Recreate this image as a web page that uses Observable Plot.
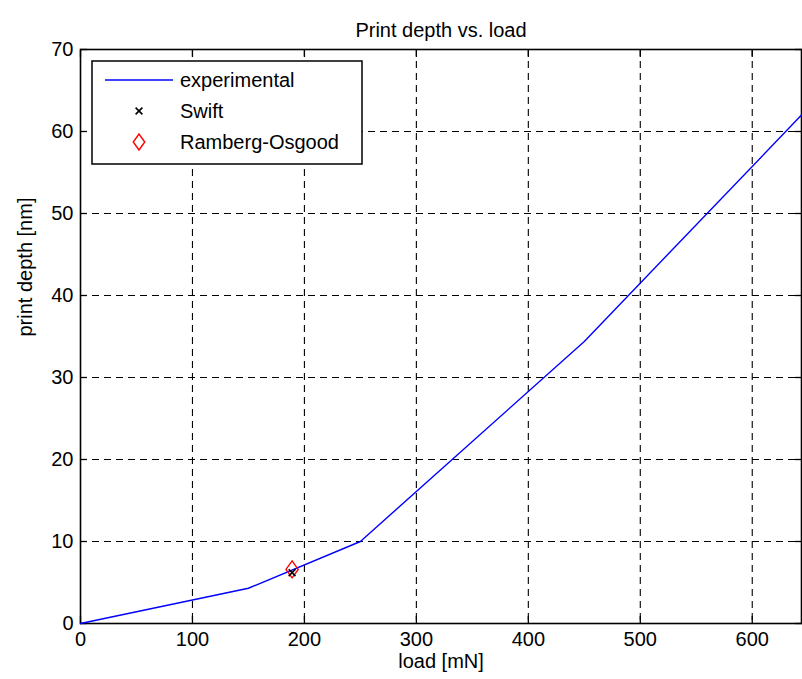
<!DOCTYPE html>
<html>
<head>
<meta charset="utf-8">
<script src="https://cdn.jsdelivr.net/npm/d3@7"></script>
<script src="https://cdn.jsdelivr.net/npm/@observablehq/plot@0.6"></script>
<style>
  html, body { margin: 0; padding: 0; background: #fff; }
  #chart { position: relative; width: 802px; height: 679px; }
</style>
</head>
<body>
<div id="chart"></div>
<script>
// ---- data ----
const loadExp = [0, 150, 250, 450, 644];
const depthExp = [0, 4.3, 10, 34.4, 62];
const swiftLoad = [189];
const swiftDepth = [6.2];
const roLoad = [189];
const roDepth = [6.6];
const xTicks = [0, 100, 200, 300, 400, 500, 600];
const yTicks = [0, 10, 20, 30, 40, 50, 60, 70];
const seriesNames = ["experimental", "Swift", "Ramberg-Osgood"];
const titleText = "Print depth vs. load";
const xLabel = "load [mN]";
const yLabel = "print depth [nm]";

const exp = loadExp.map((x, i) => ({x, y: depthExp[i]}));
const swift = swiftLoad.map((x, i) => ({x, y: swiftDepth[i]}));
const ro = roLoad.map((x, i) => ({x, y: roDepth[i]}));

// tall MATLAB-like diamond
const tallDiamond = {
  draw(context, size) {
    const h = Math.sqrt(size / Math.PI);
    const w = h * 0.72;
    context.moveTo(0, -h);
    context.lineTo(w, 0);
    context.lineTo(0, h);
    context.lineTo(-w, 0);
    context.closePath();
  }
};

const FONT = "Liberation Sans, Arial, Helvetica, sans-serif";
const FS = 20;
const grid = {stroke: "black", strokeOpacity: 1, strokeWidth: 1.1, strokeDasharray: "7,5"};

const svg = Plot.plot({
  width: 802,
  height: 679,
  marginLeft: 80,
  marginRight: 1,
  marginTop: 49,
  marginBottom: 56,
  style: {fontFamily: FONT, fontSize: FS + "px", background: "white", color: "black"},
  x: {domain: [0, 644], ticks: xTicks},
  y: {domain: [0, 70], ticks: yTicks},
  marks: [
    Plot.gridX(xTicks.filter(d => d > 0), grid),
    Plot.gridY(yTicks.filter(d => d > 0 && d < 70), grid),
    // inward tick marks on all four sides
    Plot.axisX({anchor: "bottom", ticks: xTicks, tickSize: 7, dy: -7, tickFormat: () => "", label: null, strokeWidth: 1.3}),
    Plot.axisX({anchor: "top", ticks: xTicks, tickSize: 7, dy: 7, tickFormat: () => "", label: null, strokeWidth: 1.3}),
    Plot.axisY({anchor: "left", ticks: yTicks, tickSize: 7, dx: 7, tickFormat: () => "", label: null, strokeWidth: 1.3}),
    Plot.axisY({anchor: "right", ticks: yTicks, tickSize: 7, dx: -7, tickFormat: () => "", label: null, strokeWidth: 1.3}),
    // tick labels
    Plot.axisX({anchor: "bottom", ticks: xTicks, tickSize: 0, tickPadding: 8, label: null, fontSize: FS}),
    Plot.axisY({anchor: "left", ticks: yTicks, tickSize: 0, tickPadding: 7, label: null, fontSize: FS}),
    Plot.frame({stroke: "black", strokeWidth: 1.6}),
    Plot.line(exp, {x: "x", y: "y", stroke: "#0000ff", strokeWidth: 1.4}),
    Plot.dot(ro, {x: "x", y: "y", symbol: tallDiamond, r: 8.5, stroke: "#ff0000", strokeWidth: 1.4, fill: "none"}),
    Plot.dot(swift, {x: "x", y: "y", symbol: "times", r: 3.2, stroke: "black", strokeWidth: 1.6}),
    Plot.text([titleText], {frameAnchor: "top", dy: -27, fontSize: FS, fill: "black"}),
    Plot.text([xLabel], {frameAnchor: "bottom", dy: 44, fontSize: FS, fill: "black"}),
    Plot.text([yLabel], {frameAnchor: "left", dx: -55, rotate: -90, fontSize: FS, fill: "black"})
  ]
});

// ---- legend (MATLAB-style box in upper left) ----
const g = d3.select(svg).append("g")
  .attr("font-family", FONT).attr("font-size", FS).attr("text-anchor", "start");
const L = {x: 92, y: 61, w: 270, h: 103};
g.append("rect").attr("x", L.x).attr("y", L.y).attr("width", L.w).attr("height", L.h)
  .attr("fill", "white").attr("stroke", "black").attr("stroke-width", 1.5);
const rowY = [80, 111, 142];
g.append("line").attr("x1", 105).attr("x2", 173).attr("y1", rowY[0]).attr("y2", rowY[0])
  .attr("stroke", "#0000ff").attr("stroke-width", 1.4);
g.append("path").attr("d", d3.symbol(d3.symbolTimes, Math.PI * 3.2 * 3.2)())
  .attr("transform", `translate(139,${rowY[1]})`).attr("stroke", "black").attr("stroke-width", 1.6).attr("fill", "none");
g.append("path").attr("d", d3.symbol(tallDiamond, Math.PI * 8 * 8)())
  .attr("transform", `translate(139,${rowY[2]})`).attr("stroke", "#ff0000").attr("stroke-width", 1.4).attr("fill", "none");
seriesNames.forEach((name, i) => {
  g.append("text").attr("x", 180).attr("y", rowY[i]).attr("dy", "0.35em")
    .attr("text-anchor", "start").attr("fill", "black").text(name);
});

document.getElementById("chart").appendChild(svg);
</script>
</body>
</html>
